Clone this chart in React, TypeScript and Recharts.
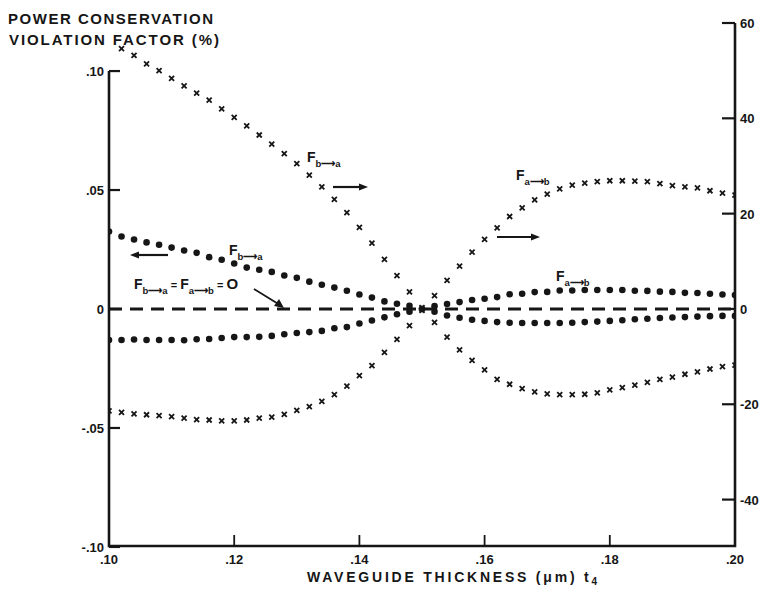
import React from "react";
import { ComposedChart, Line, XAxis, YAxis, ReferenceLine } from "recharts";

// waveguide thickness t4 (um)
const thickness = [
  0.1, 0.102, 0.104, 0.106, 0.108, 0.11, 0.112, 0.114, 0.116, 0.118, 0.12,
  0.122, 0.124, 0.126, 0.128, 0.13, 0.132, 0.134, 0.136, 0.138, 0.14, 0.142,
  0.144, 0.146, 0.148, 0.15, 0.152, 0.154, 0.156, 0.158, 0.16, 0.162, 0.164,
  0.166, 0.168, 0.17, 0.172, 0.174, 0.176, 0.178, 0.18, 0.182, 0.184, 0.186,
  0.188, 0.19, 0.192, 0.194, 0.196, 0.198, 0.2,
];

// x markers, right axis
const crossBtoA = [
  null, 54.6, 53.2, 51.4, 50.0, 48.4, 46.8, 45.3, 43.8, 42.0, 40.2, 38.4, 36.5,
  34.6, 32.6, 30.5, 28.1, 25.6, 23.0, 20.2, 17.1, 13.8, 10.4, 7.0, 3.6, 0.3,
  -2.8, -5.9, -8.6, -10.8, -12.8, -14.8, -15.8, -16.7, -17.4, -17.8, -18.0,
  -18.0, -17.9, -17.6, -17.0, -16.5, -16.0, -15.4, -14.8, -14.3, -13.7, -13.2,
  -12.6, -12.1, -11.8,
];
const crossAtoB = [
  -21.4, -21.7, -22.0, -22.2, -22.4, -22.6, -22.9, -23.2, -23.3, -23.5, -23.5,
  -23.3, -22.9, -22.7, -22.1, -21.3, -20.5, -19.4, -18.0, -16.2, -14.0, -11.9,
  -9.1, -6.4, -3.5, -0.3, 2.8, 6.0, 9.0, 11.9, 14.6, 17.0, 19.4, 21.2, 22.9,
  24.1, 25.2, 26.0, 26.4, 26.7, 26.9, 26.9, 26.8, 26.7, 26.3, 25.9, 25.6, 25.4,
  24.8, 24.3, 23.9,
];

// dot markers, left axis
const dotBtoA = [
  0.0326, 0.0305, 0.0292, 0.028, 0.027, 0.0258, 0.0246, 0.0236, 0.0218, 0.0207,
  0.0191, 0.0174, 0.0165, 0.0156, 0.0141, 0.0131, 0.0115, 0.0102, 0.009,
  0.0077, 0.0061, 0.0048, 0.0032, 0.0022, 0.0013, 0.0, -0.0011, -0.0027,
  -0.0037, -0.0045, -0.005, -0.0055, -0.0058, -0.0059, -0.0059, -0.0059,
  -0.0059, -0.0058, -0.0055, -0.0053, -0.005, -0.0047, -0.0043, -0.0041,
  -0.0038, -0.0036, -0.0034, -0.0032, -0.003, -0.0029, -0.0029,
];
const dotAtoB = [
  -0.013, -0.013, -0.0128, -0.013, -0.013, -0.013, -0.0131, -0.0127, -0.0126,
  -0.0122, -0.0118, -0.0118, -0.0117, -0.0113, -0.0106, -0.0101, -0.0097,
  -0.0092, -0.0081, -0.0076, -0.0061, -0.0048, -0.0035, -0.0022, -0.0011, 0.0,
  0.0012, 0.0021, 0.0029, 0.0038, 0.0043, 0.005, 0.0062, 0.0064, 0.0071,
  0.0072, 0.0078, 0.0078, 0.008, 0.008, 0.008, 0.008, 0.0077, 0.0076, 0.0073,
  0.0072, 0.0068, 0.0067, 0.0064, 0.0061, 0.0059,
];

const xTicks = [0.1, 0.12, 0.14, 0.16, 0.18, 0.2];
const xTickLabels = [".10", ".12", ".14", ".16", ".18", ".20"];
const leftTicks = [-0.1, -0.05, 0, 0.05, 0.1];
const leftTickLabels = ["-.10", "-.05", "0", ".05", ".10"];
const rightTicks = [-40, -20, 0, 20, 40, 60];
const rightTickLabels = ["-40", "-20", "0", "20", "40", "60"];

const X_MIN = 0.1;
const X_MAX = 0.2;
const LEFT_MIN = -0.0996;
const LEFT_MAX = 0.1202;
const RIGHT_MIN = -49.74;
const RIGHT_MAX = 60;

// plot box (margins + axis sizes below)
const W = 771;
const H = 602;
const M = { top: 23, right: 0, bottom: 16, left: 49 };
const LEFT_W = 60;
const RIGHT_W = 36;
const X_H = 40;
const PL = M.left + LEFT_W;
const PR = W - M.right - RIGHT_W;
const PT = M.top;
const PB = H - M.bottom - X_H;

const sx = (t: number) => PL + ((t - X_MIN) / (X_MAX - X_MIN)) * (PR - PL);
const syL = (v: number) => PT + ((LEFT_MAX - v) / (LEFT_MAX - LEFT_MIN)) * (PB - PT);
const syR = (v: number) => PT + ((RIGHT_MAX - v) / (RIGHT_MAX - RIGHT_MIN)) * (PB - PT);

const data = thickness.map((t, i) => ({
  t,
  crossBtoA: crossBtoA[i],
  crossAtoB: crossAtoB[i],
  dotBtoA: dotBtoA[i],
  dotAtoB: dotAtoB[i],
}));

const INK = "#161616";
const FONT = "'Liberation Sans', Arial, sans-serif";

function labelFor(list: number[], labels: string[], v: number) {
  const i = list.findIndex((d) => Math.abs(d - v) < 1e-9);
  return i >= 0 ? labels[i] : String(v);
}

function LeftTick(props: any) {
  const x = Number(props.x);
  const y = Number(props.y);
  return (
    <text x={x - 5} y={y + 5} textAnchor="end" fontSize={13} fontWeight={700} fontFamily={FONT} fill={INK}>
      {labelFor(leftTicks, leftTickLabels, props.payload.value)}
    </text>
  );
}

function RightTick(props: any) {
  const x = Number(props.x);
  const y = Number(props.y);
  return (
    <text x={x + 5} y={y + 5} textAnchor="start" fontSize={13} fontWeight={700} fontFamily={FONT} fill={INK}>
      {labelFor(rightTicks, rightTickLabels, props.payload.value)}
    </text>
  );
}

function BottomTick(props: any) {
  const x = Number(props.x);
  const y = Number(props.y);
  return (
    <text x={x} y={y + 18} textAnchor="middle" fontSize={13} fontWeight={700} fontFamily={FONT} fill={INK}>
      {labelFor(xTicks, xTickLabels, props.payload.value)}
    </text>
  );
}

function CrossDot(props: any) {
  const { cx, cy, index } = props;
  if (cx == null || cy == null || Number.isNaN(cy)) return <g key={index} />;
  const s = 2.5;
  return (
    <path
      key={index}
      d={`M${cx - s},${cy - s}L${cx + s},${cy + s}M${cx - s},${cy + s}L${cx + s},${cy - s}`}
      stroke={INK}
      strokeWidth={1.8}
    />
  );
}

function RoundDot(props: any) {
  const { cx, cy, index } = props;
  if (cx == null || cy == null || Number.isNaN(cy)) return <g key={index} />;
  return <circle key={index} cx={cx} cy={cy} r={3.3} fill={INK} />;
}

function Arrow({ x1, x2, y }: { x1: number; x2: number; y: number }) {
  const dir = x2 > x1 ? 1 : -1;
  return (
    <g>
      <line x1={x1} x2={x2 - dir * 6} y1={y} y2={y} stroke={INK} strokeWidth={2.2} />
      <polygon points={`${x2},${y} ${x2 - dir * 9},${y - 3.5} ${x2 - dir * 9},${y + 3.5}`} fill={INK} />
    </g>
  );
}

function FLabel({ x, y, sub }: { x: number; y: number; sub: string }) {
  return (
    <text x={x} y={y} fontSize={14} fontWeight={700} fontFamily={FONT} fill={INK}>
      F
      <tspan dy={5} fontSize={9.5}>
        {sub}
      </tspan>
    </text>
  );
}

// axis frame and inward tick marks
function Frame() {
  return (
    <g stroke={INK} fill="none">
      <path d={`M${PL},${syL(0.1)}L${PL},${PB}L${PR},${PB}L${PR},${PT}`} strokeWidth={2.6} strokeLinejoin="miter" />
      {leftTicks.map((v) => (
        <path key={`l${v}`} d={`M${PL},${syL(v)}h11`} strokeWidth={2.2} />
      ))}
      {rightTicks.map((v) => (
        <path key={`r${v}`} d={`M${PR - 13},${syR(v)}H${PR}`} strokeWidth={2.2} />
      ))}
      {xTicks.slice(1, -1).map((t) => (
        <path key={`x${t}`} d={`M${sx(t)},${PB}v-11`} strokeWidth={1.8} />
      ))}
    </g>
  );
}

function Annotations() {
  return (
    <svg width={W} height={H} style={{ position: "absolute", left: 0, top: 0, pointerEvents: "none" }}>
      <Frame />
      <text x={8} y={24} fontSize={15} fontWeight={700} fontFamily={FONT} fill={INK} textLength={205} lengthAdjust="spacing">
        POWER CONSERVATION
      </text>
      <text x={9} y={45} fontSize={15} fontWeight={700} fontFamily={FONT} fill={INK} textLength={210} lengthAdjust="spacing">
        VIOLATION FACTOR (%)
      </text>
      <text x={307} y={582} fontSize={14} fontWeight={700} fontFamily={FONT} fill={INK} textLength={290} lengthAdjust="spacing">
        WAVEGUIDE THICKNESS (μm) t<tspan dy={3} fontSize={10}>4</tspan>
      </text>

      <FLabel x={307} y={162} sub="b⟶a" />
      <Arrow x1={333} x2={368} y={187} />

      <FLabel x={229} y={255} sub="b⟶a" />
      <Arrow x1={168} x2={130} y={255} />

      <text x={134} y={289} fontSize={14} fontWeight={700} fontFamily={FONT} fill={INK}>
        F<tspan dy={5} fontSize={9.5}>b⟶a</tspan>
        <tspan dy={-5} fontSize={11}> = </tspan>F<tspan dy={5} fontSize={9.5}>a⟶b</tspan>
        <tspan dy={-5} fontSize={11}> = </tspan>
        <tspan fontSize={15}>O</tspan>
      </text>
      <line x1={254} y1={289} x2={280} y2={305} stroke={INK} strokeWidth={1.8} />
      <polygon points="284,308 274,306 279,299" fill={INK} />

      <FLabel x={516} y={180} sub="a⟶b" />
      <Arrow x1={497} x2={540} y={237} />

      <FLabel x={556} y={281} sub="a⟶b" />
    </svg>
  );
}

export default function App() {
  return (
    <div style={{ position: "absolute", left: 0, top: 0, width: W, height: H, background: "#fff" }}>
      <ComposedChart width={W} height={H} data={data} margin={M}>
        <XAxis
          dataKey="t"
          type="number"
          domain={[X_MIN, X_MAX]}
          ticks={xTicks}
          allowDataOverflow
          height={X_H}
          tickSize={0}
          tickMargin={0}
          tickLine={false}
          tick={<BottomTick />}
          axisLine={false}
        />
        <YAxis
          type="number"
          domain={[LEFT_MIN, LEFT_MAX]}
          ticks={leftTicks}
          allowDataOverflow
          width={LEFT_W}
          tickSize={0}
          tickMargin={0}
          tickLine={false}
          axisLine={false}
          tick={<LeftTick />}
        />
        <YAxis
          yAxisId="right"
          orientation="right"
          type="number"
          domain={[RIGHT_MIN, RIGHT_MAX]}
          ticks={rightTicks}
          allowDataOverflow
          width={RIGHT_W}
          tickSize={0}
          tickMargin={0}
          tickLine={false}
          tick={<RightTick />}
          axisLine={false}
        />
        <ReferenceLine y={0} stroke={INK} strokeWidth={3} strokeDasharray="13 8" />
        <Line yAxisId="right" dataKey="crossBtoA" stroke="none" strokeWidth={0} dot={CrossDot} activeDot={false} isAnimationActive={false} />
        <Line yAxisId="right" dataKey="crossAtoB" stroke="none" strokeWidth={0} dot={CrossDot} activeDot={false} isAnimationActive={false} />
        <Line dataKey="dotBtoA" stroke="none" strokeWidth={0} dot={RoundDot} activeDot={false} isAnimationActive={false} />
        <Line dataKey="dotAtoB" stroke="none" strokeWidth={0} dot={RoundDot} activeDot={false} isAnimationActive={false} />
      </ComposedChart>
      <Annotations />
    </div>
  );
}
